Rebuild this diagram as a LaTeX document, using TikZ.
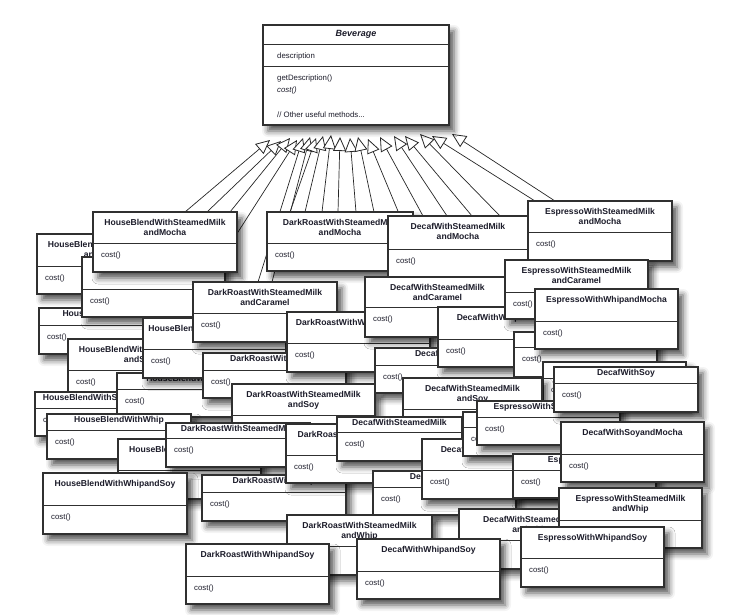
\documentclass[tikz,border=0pt]{standalone}
\usepackage{fontspec}
\setmainfont{Liberation Sans}
\usetikzlibrary{calc,arrows.meta,shadows.blur}
\pgfdeclarelayer{background}
\pgfsetlayers{background,main}
\definecolor{ink}{RGB}{28,28,42}
\definecolor{edge}{RGB}{48,48,48}

\tikzset{
  cbox/.style={draw=edge, line width=1.1pt, fill=white, inner sep=0pt, outer sep=0pt,
    anchor=north west,
    blur shadow={shadow xshift=5pt, shadow yshift=-6pt, shadow blur radius=6pt, shadow opacity=68}},
  divl/.style={draw=edge, line width=0.9pt},
  ttl/.style={font=\fontsize{8.6}{10.5}\selectfont\bfseries, text=ink, align=center,
    inner sep=0pt, anchor=north},
  meth/.style={font=\fontsize{7.8}{9}\selectfont, text=ink, inner sep=0pt, anchor=west},
  inh/.style={draw=black!85, line width=0.7pt,
    -{Triangle[length=14pt,width=13pt,fill=white,line width=0.8pt]}}
}

% class box: name, x, y, width, height, divider offset, title
\newcommand\klass[7]{%
  \node[cbox, minimum width=#4pt, minimum height=#5pt] (#1) at (#2,#3) {};
  \draw[divl] ([yshift=-#6pt]#1.north west) -- ([yshift=-#6pt]#1.north east);
  \ifdim #6pt<25pt \def\tsh{2}\else\def\tsh{7}\fi
  \node[ttl] at ([yshift=-\tsh pt]#1.north) {#7};
  \node[meth] at ([xshift=8pt,yshift=-\the\dimexpr#6pt+12pt\relax]#1.north west) {cost()};
}

\begin{document}
\begin{tikzpicture}[x=1pt,y=-1pt]
\useasboundingbox (0,0) rectangle (744,615);

% abstract superclass
\node[cbox, minimum width=186pt, minimum height=100pt] (bev) at (263,25) {};
\node[font=\fontsize{9}{11}\selectfont\bfseries\itshape, text=ink, inner sep=0pt]
  at ([yshift=-9.5pt]bev.north) {Beverage};
\draw[divl] ([yshift=-19pt]bev.north west) -- ([yshift=-19pt]bev.north east);
\node[meth] at ([xshift=14pt,yshift=-31pt]bev.north west) {description};
\draw[divl] ([yshift=-41pt]bev.north west) -- ([yshift=-41pt]bev.north east);
\node[meth] at ([xshift=14pt,yshift=-53pt]bev.north west) {getDescription()};
\node[meth, font=\fontsize{7.8}{9}\selectfont\itshape] at ([xshift=14pt,yshift=-65pt]bev.north west) {cost()};
\node[meth] at ([xshift=14pt,yshift=-90pt]bev.north west) {// Other useful methods...};

% subclasses, back to front
\klass{hbsmc}{37}{234}{143}{60}{32}{HouseBlendWithSteamedMilk\\andCaramel}
\klass{hbm}{39}{308}{143}{46}{17}{HouseBlendWithMocha}
\klass{hbsm}{82}{257}{143}{60}{32}{HouseBlendWithSteamedMilk}
\klass{drsmm}{267}{212}{146}{59}{31}{DarkRoastWithSteamedMilk\\andMocha}
\klass{dsmm}{388}{216}{140}{61}{33}{DecafWithSteamedMilk\\andMocha}
\klass{esmm}{528}{201}{144}{60}{31}{EspressoWithSteamedMilk\\andMocha}
\klass{hbsmmo}{93}{212}{144}{60}{31}{HouseBlendWithSteamedMilk\\andMocha}
\klass{hbsms}{68}{339}{143}{55}{31}{HouseBlendWithSteamedMilk\\andSoy}
\klass{hbsmo}{35}{392}{143}{44}{16}{HouseBlendWithSoyandMocha}
\klass{hbs}{117}{373}{143}{44}{16}{HouseBlendWithSoy}
\klass{hbwm}{143}{318}{143}{60}{31}{HouseBlendWithWhipandMocha}
\klass{drsmc}{193}{282}{144}{60}{31}{DarkRoastWithSteamedMilk\\andCaramel}
\klass{drm}{203}{353}{143}{45}{17}{DarkRoastWithMocha}
\klass{hbw}{47}{414}{144}{45}{16}{HouseBlendWithWhip}
\klass{hbsw}{118}{439}{143}{60}{31}{HouseBlendWithSoyandWhip}
\klass{drsms}{232}{384}{143}{60}{31}{DarkRoastWithSteamedMilk\\andSoy}
\klass{drsm}{166}{423}{144}{44}{15}{DarkRoastWithSteamedMilk}
\klass{drwm}{287}{312}{143}{60}{31}{DarkRoastWithWhipandMocha}
\klass{dsmc}{365}{277}{145}{60}{30}{DecafWithSteamedMilk\\andCaramel}
\klass{dw}{375}{348}{143}{45}{17}{DecafWithWhip}
\klass{dwm}{438}{307}{143}{60}{32}{DecafWithWhipandMocha}
\klass{esmc}{505}{260}{143}{59}{32}{EspressoWithSteamedMilk\\andCaramel}
\klass{ew}{514}{332}{143}{45}{15}{EspressoWithWhip}
\klass{ewm}{535}{289}{143}{60}{32}{EspressoWithWhipandMocha}
\klass{emo}{543}{362}{143}{45}{16}{}
\klass{dsms}{403}{378}{139}{60}{31}{DecafWithSteamedMilk\\andSoy}
\klass{drw}{202}{475}{144}{46}{17}{DarkRoastWithWhip}
\klass{drso}{286}{424}{143}{59}{31}{DarkRoastWithSoyandMocha}
\klass{dsm}{337}{417}{125}{44}{15}{DecafWithSteamedMilk}
\klass{dmo}{373}{471}{143}{44}{16}{DecafWithMocha}
\klass{dmw}{422}{439}{143}{60}{31}{DecafWithMochaandWhip}
\klass{dc}{463}{412}{140}{44}{15}{DecafWithCaramel}
\klass{esm}{477}{401}{143}{44}{16}{EspressoWithSteamedMilk}
\klass{ds}{554}{367}{144}{45}{16}{DecafWithSoy}
\klass{es}{513}{454}{143}{44}{16}{EspressoWithSoy}
\klass{dsmo}{561}{422}{143}{60}{32}{DecafWithSoyandMocha}
\klass{hbws}{43}{473}{144}{61}{32}{HouseBlendWithWhipandSoy}
\klass{drsmw}{287}{515}{145}{60}{31}{DarkRoastWithSteamedMilk\\andWhip}
\klass{dsmw}{459}{509}{143}{60}{31}{DecafWithSteamedMilk\\andWhip}
\klass{esmw}{559}{488}{143}{60}{32}{EspressoWithSteamedMilk\\andWhip}
\klass{drws}{186}{544}{143}{60}{32}{DarkRoastWithWhipandSoy}
\klass{dws}{357}{539}{143}{60}{32}{DecafWithWhipandSoy}
\klass{ews}{521}{527}{143}{60}{31}{EspressoWithWhipandSoy}

% inheritance arrows, behind every box
\begin{pgfonlayer}{background}
\foreach \n/\dx/\tx/\ty in {
  hbsmmo/92/7/15, hbsmmo/114/18/16, hbsmmo/137/27/13, hbsm/140/34/15,
  drsmc/65/40/13, drsmc/79/47/12,
  drsmm/23/53/13, drsmm/38/60/11, drsmm/55/68/10, drsmm/71/77/12,
  drsmm/89/87/13, drsmm/107/95/12,
  dsmm/12/105/14, dsmm/35/117/12, dsmm/59/131/11, dsmm/84/142/11, dsmm/112/157/9,
  esmm/7/169/11, esmm/27/189/9}
  \draw[inh] ($(\n.north west)+(\dx,0)$) -- ($(bev.south west)+(\tx,\ty)$);
\end{pgfonlayer}
\end{tikzpicture}
\end{document}
